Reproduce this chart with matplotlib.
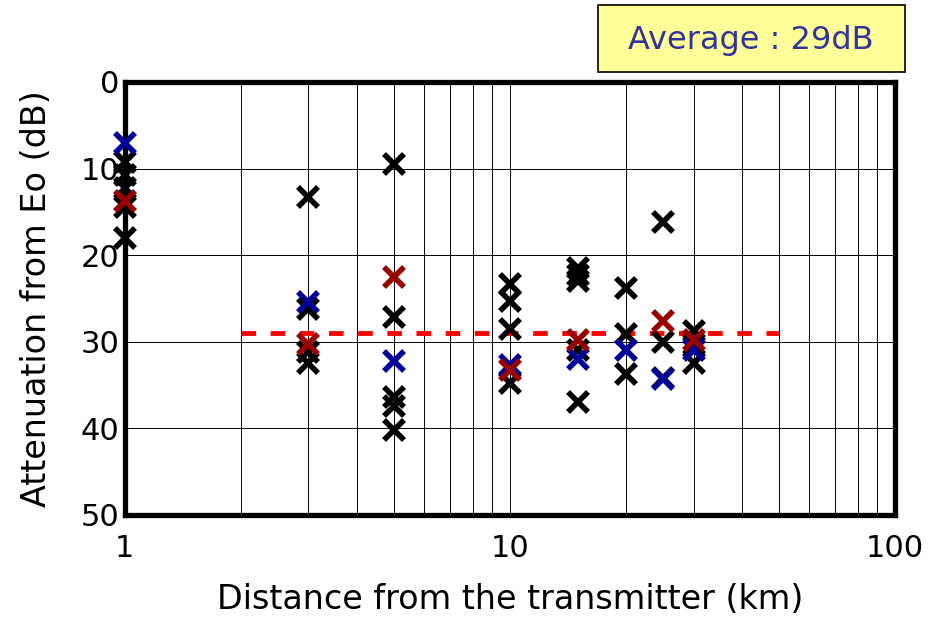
import matplotlib.pyplot as plt
from matplotlib.patches import Rectangle

# 거리 (km) / 감쇠 (dB) - 검정 점
black_x = [1, 1, 1, 1, 1,
           3, 3, 3, 3,
           5, 5, 5, 5, 5,
           10, 10, 10, 10,
           15, 15, 15, 15, 15,
           20, 20, 20,
           25, 25, 25,
           30, 30, 30]
black_y = [9.3, 10.8, 12.2, 14.5, 18.0,
           13.3, 26.2, 31.2, 32.4,
           9.5, 27.1, 36.4, 37.4, 40.2,
           23.3, 25.3, 28.5, 34.8,
           21.5, 22.3, 23.0, 30.9, 37.0,
           23.8, 29.1, 33.7,
           16.2, 30.0, 34.2,
           28.8, 30.3, 32.4]

# 파란 점
blue_x = [1, 3, 5, 10, 15, 20, 25, 30]
blue_y = [7.0, 25.4, 32.2, 32.7, 32.0, 30.9, 34.3, 31.0]

# 빨간 점
red_x = [1, 3, 5, 10, 15, 25, 30]
red_y = [13.8, 30.3, 22.5, 33.3, 29.8, 27.6, 29.8]

avg_db = 29
avg_range = [2, 50]

fig = plt.figure(figsize=(9.45, 6.25), dpi=100)
ax = fig.add_axes([0.132, 0.176, 0.815, 0.693])

ax.set_xscale('log')
ax.set_xlim(1, 100)
ax.set_ylim(50, 0)
ax.set_yticks([0, 10, 20, 30, 40, 50])
ax.set_xticks([1, 10, 100])
ax.set_xticklabels(['1', '10', '100'])
ax.grid(True, which='both', color='black', linewidth=0.7)
ax.tick_params(which='both', length=0, labelsize=22)
ax.tick_params(axis='y', pad=4)
ax.tick_params(axis='x', pad=14)
for s in ax.spines.values():
    s.set_linewidth(3.8)

# 평균선
ax.plot(avg_range, [avg_db, avg_db], color='red', linestyle=(0, (3, 3)),
        linewidth=3.5, zorder=2)

ax.plot(black_x, black_y, 'x', color='black', markersize=14, mew=4, zorder=3, clip_on=False)
ax.plot(blue_x, blue_y, 'x', color='#000099', markersize=14, mew=4, zorder=4, clip_on=False)
ax.plot(red_x, red_y, 'x', color='#990000', markersize=14, mew=4, zorder=5, clip_on=False)

ax.set_xlabel('Distance from the transmitter (km)', fontsize=24, labelpad=14)
ax.set_ylabel('Attenuation from Eo (dB)', fontsize=24, labelpad=20)

# 평균 박스
fig.patches.append(Rectangle((0.633, 0.885), 0.325, 0.107, transform=fig.transFigure,
                             facecolor='#ffff99', edgecolor='black', linewidth=1.2))
fig.text(0.795, 0.935, 'Average : 29dB', fontsize=23, color='#333399',
         ha='center', va='center')

fig.savefig('out.png', dpi=100)
